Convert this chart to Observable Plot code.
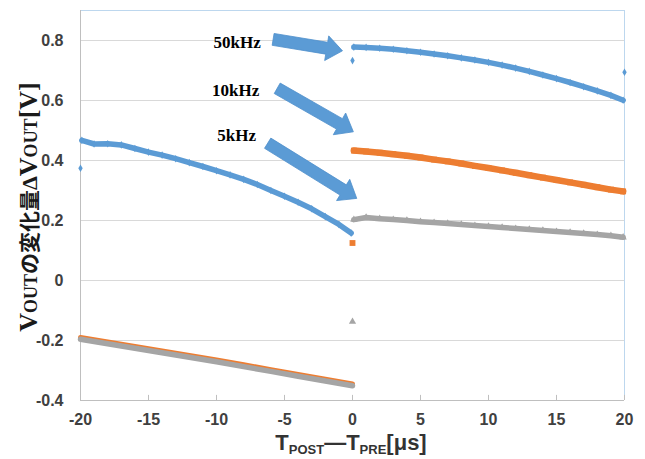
<!DOCTYPE html>
<html><head><meta charset="utf-8">
<script src="https://cdn.jsdelivr.net/npm/d3@7"></script>
<script src="https://cdn.jsdelivr.net/npm/@observablehq/plot@0.6"></script>
<style>
body{margin:0;background:#fff;}
#chart{width:645px;height:459px;}
</style></head><body><div id="chart"></div>
<script>
// ---- data ----
const seriesNames = ["50kHz", "10kHz", "5kHz"];
const seriesColors = ["#5b9bd5", "#ed7d31", "#a5a5a5"];
const seriesSymbols = ["diamond", "square", "triangle"];

const xLeft = [-19.9,-19,-18,-17,-16,-15,-14,-13,-12,-11,-10,-9,-8,-7,-6,-5,-4,-3,-2,-1,-0.1];
const xRight = [0.1,1,2,3,4,5,6,7,8,9,10,11,12,13,14,15,16,17,18,19,19.9];
const xLeftLow = [-20,-18,-16,-14,-12,-10,-8,-6,-4,-2,0];

const v50Left = [0.467,0.455,0.456,0.452,0.440,0.428,0.418,0.406,0.393,0.380,0.366,0.352,0.337,0.320,0.300,0.281,0.261,0.239,0.213,0.187,0.158];
const v50Right = [0.778,0.777,0.774,0.771,0.766,0.761,0.755,0.749,0.742,0.735,0.727,0.718,0.708,0.697,0.685,0.673,0.660,0.646,0.632,0.617,0.601];
const v10Left = [-0.190,-0.205,-0.220,-0.235,-0.250,-0.265,-0.281,-0.297,-0.313,-0.329,-0.345];
const v10Right = [0.433,0.430,0.426,0.421,0.416,0.410,0.403,0.397,0.390,0.382,0.375,0.367,0.359,0.351,0.343,0.335,0.327,0.319,0.311,0.303,0.297];
const v5Left = [-0.196,-0.211,-0.226,-0.241,-0.256,-0.271,-0.287,-0.303,-0.319,-0.335,-0.351];
const v5Right = [0.203,0.210,0.206,0.203,0.200,0.196,0.193,0.190,0.187,0.183,0.180,0.177,0.173,0.170,0.167,0.163,0.160,0.157,0.153,0.149,0.144];

// isolated points at the segment ends
const outlierSeries = ["50kHz","50kHz","50kHz","10kHz","5kHz"];
const outlierX = [-20, 0, 20, 0, 0];
const outlierV = [0.374, 0.733, 0.694, 0.125, -0.137];

// annotation arrows (data coordinates) and labels
const arrowLabels = ["50kHz", "10kHz", "5kHz"];
const arrowTailX = [-5.8, -5.5, -6.2];
const arrowTailV = [0.802, 0.639, 0.456];
const arrowTipX = [-0.7, 0.1, 0.35];
const arrowTipV = [0.764, 0.494, 0.272];
const labelX = [-6.75, -6.85, -7.1];
const labelV = [0.794, 0.633, 0.483];

const xTicks = [-20,-15,-10,-5,0,5,10,15,20];
const xTickLabels = ["-20","-15","-10","-5","0","5","10","15","20"];
const yTicks = [-0.4,-0.2,0,0.2,0.4,0.6,0.8];
const yTickLabels = ["-0.4","-0.2","0","0.2","0.4","0.6","0.8"];

// ---- build tables ----
const rows = [];
function addSeg(name, seg, xs, vs) { xs.forEach((x, i) => rows.push({series: name, seg, x, v: vs[i]})); }
addSeg("50kHz", "L", xLeft, v50Left);
addSeg("50kHz", "R", xRight, v50Right);
addSeg("10kHz", "L", xLeftLow, v10Left);
addSeg("10kHz", "R", xRight, v10Right);
addSeg("5kHz", "L", xLeftLow, v5Left);
addSeg("5kHz", "R", xRight, v5Right);
const outliers = outlierX.map((x, i) => ({series: outlierSeries[i], x, v: outlierV[i]}));
const labels = arrowLabels.map((t, i) => ({t, x: labelX[i], v: labelV[i]}));

const lineWidths = {"50kHz": 5.5, "10kHz": 6.5, "5kHz": 5.5};
const dotR = {"50kHz": 2.3, "10kHz": 3.3, "5kHz": 2.7};

const dataMarks = [];
seriesNames.forEach((name, i) => {
  const d = rows.filter(r => r.series === name);
  const dl = d.filter(r => r.seg === "L"), dr = d.filter(r => r.seg === "R");
  const lw = name === "10kHz" ? 5 : lineWidths[name];
  dataMarks.push(Plot.line(dl, {x: "x", y: "v", stroke: seriesColors[i], strokeWidth: lw, strokeLinejoin: "round", strokeLinecap: "round"}));
  dataMarks.push(Plot.line(dr, {x: "x", y: "v", stroke: seriesColors[i], strokeWidth: lineWidths[name], strokeLinejoin: "round", strokeLinecap: "round"}));
  dataMarks.push(Plot.dot(dr, {x: "x", y: "v", symbol: seriesSymbols[i], fill: seriesColors[i], r: dotR[name], stroke: "none"}));
  if (name === "50kHz") dataMarks.push(Plot.dot(dl, {x: "x", y: "v", symbol: seriesSymbols[i], fill: seriesColors[i], r: dotR[name], stroke: "none"}));
  dataMarks.push(Plot.dot(outliers.filter(r => r.series === name), {x: "x", y: "v", symbol: seriesSymbols[i], fill: seriesColors[i], r: dotR[name], stroke: "none"}));
});

const plot = Plot.plot({
  width: 645, height: 459,
  marginLeft: 80, marginRight: 21, marginTop: 10, marginBottom: 59,
  style: {fontFamily: "'Liberation Sans', Arial, sans-serif", fontSize: "16px", fontWeight: "bold", color: "#404040", background: "#ffffff", overflow: "visible"},
  x: {domain: [-20, 20], ticks: xTicks, tickSize: 0, tickPadding: 13, label: null,
      tickFormat: d => xTickLabels[xTicks.indexOf(d)]},
  y: {domain: [-0.4, 0.9], ticks: yTicks, tickSize: 0, tickPadding: 17, label: null,
      tickFormat: d => yTickLabels[yTicks.indexOf(d)]},
  marks: [
    Plot.ruleY(yTicks.filter(d => d > -0.4), {stroke: "#d9d9d9", strokeWidth: 1}),
    Plot.ruleY([0.9], {stroke: "#bdd7ee"}),
    Plot.ruleX([20], {stroke: "#bdd7ee"}),
    Plot.ruleX([-20], {stroke: "#bfbfbf"}),
    Plot.ruleY([-0.4], {stroke: "#bfbfbf"}),
    Plot.ruleX(xTicks, {y1: -0.4, y2: -0.383, stroke: "#bfbfbf"}),
    ...dataMarks,
    Plot.text(labels, {x: "x", y: "v", text: "t", textAnchor: "end", fontFamily: "'Liberation Serif', 'Times New Roman', serif", fontSize: 17, fontWeight: "bold", fill: "#000"})
  ]
});

document.getElementById("chart").appendChild(plot);

// ---- block arrows and axis titles, placed with Plot's scales ----
const sx = plot.scale("x"), sy = plot.scale("y");
const fx = d3.scaleLinear(sx.domain, sx.range), fy = d3.scaleLinear(sy.domain, sy.range);
const svg = d3.select(plot);
const ga = svg.append("g");
arrowLabels.forEach((_, i) => {
  const tx = fx(arrowTailX[i]), ty = fy(arrowTailV[i]);
  const px = fx(arrowTipX[i]), py = fy(arrowTipV[i]);
  const L = Math.hypot(px - tx, py - ty), ux = (px - tx) / L, uy = (py - ty) / L;
  const nx = -uy, ny = ux, sw = 6, hw = 12.5, hl = 16;
  const hx = px - ux * hl, hy = py - uy * hl;
  const pts = [[tx + nx*sw, ty + ny*sw], [hx + nx*sw, hy + ny*sw], [hx + nx*hw, hy + ny*hw], [px, py],
               [hx - nx*hw, hy - ny*hw], [hx - nx*sw, hy - ny*sw], [tx - nx*sw, ty - ny*sw]];
  ga.append("polygon").attr("points", pts.map(p => p.join(",")).join(" "))
    .attr("fill", "#5b9bd5").attr("stroke", "#4f8fcc").attr("stroke-width", 0.8);
});

// y-axis title
const serif = "'Liberation Serif', 'Times New Roman', serif";
const cjk = "'Noto Sans CJK JP', sans-serif";
const yt = svg.append("text")
  .attr("transform", "translate(37,207) rotate(-90)")
  .attr("text-anchor", "middle").attr("fill", "#1a1a1a").attr("font-weight", "bold");
[["V", serif, 26], ["OUT", serif, 18], ["の変化量", cjk, 21], ["Δ", serif, 22], ["V", serif, 26], ["OUT", serif, 18], ["[V]", serif, 26]]
  .forEach(([t, f, s]) => yt.append("tspan").attr("font-family", f).attr("font-size", s).text(t));

// x-axis title
const xt = svg.append("text")
  .attr("x", 351).attr("y", 450).attr("text-anchor", "middle")
  .attr("fill", "#333").attr("font-weight", "bold")
  .attr("font-family", "'Liberation Sans', Arial, sans-serif");
xt.append("tspan").attr("font-size", 22).text("T");
xt.append("tspan").attr("font-size", 13).attr("dy", 4).text("POST");
xt.append("tspan").attr("font-size", 22).attr("dy", -4).text("\u2014T");
xt.append("tspan").attr("font-size", 13).attr("dy", 4).text("PRE");
xt.append("tspan").attr("font-size", 22).attr("dy", -4).text("[\u03bcs]");
</script>
</body></html>
